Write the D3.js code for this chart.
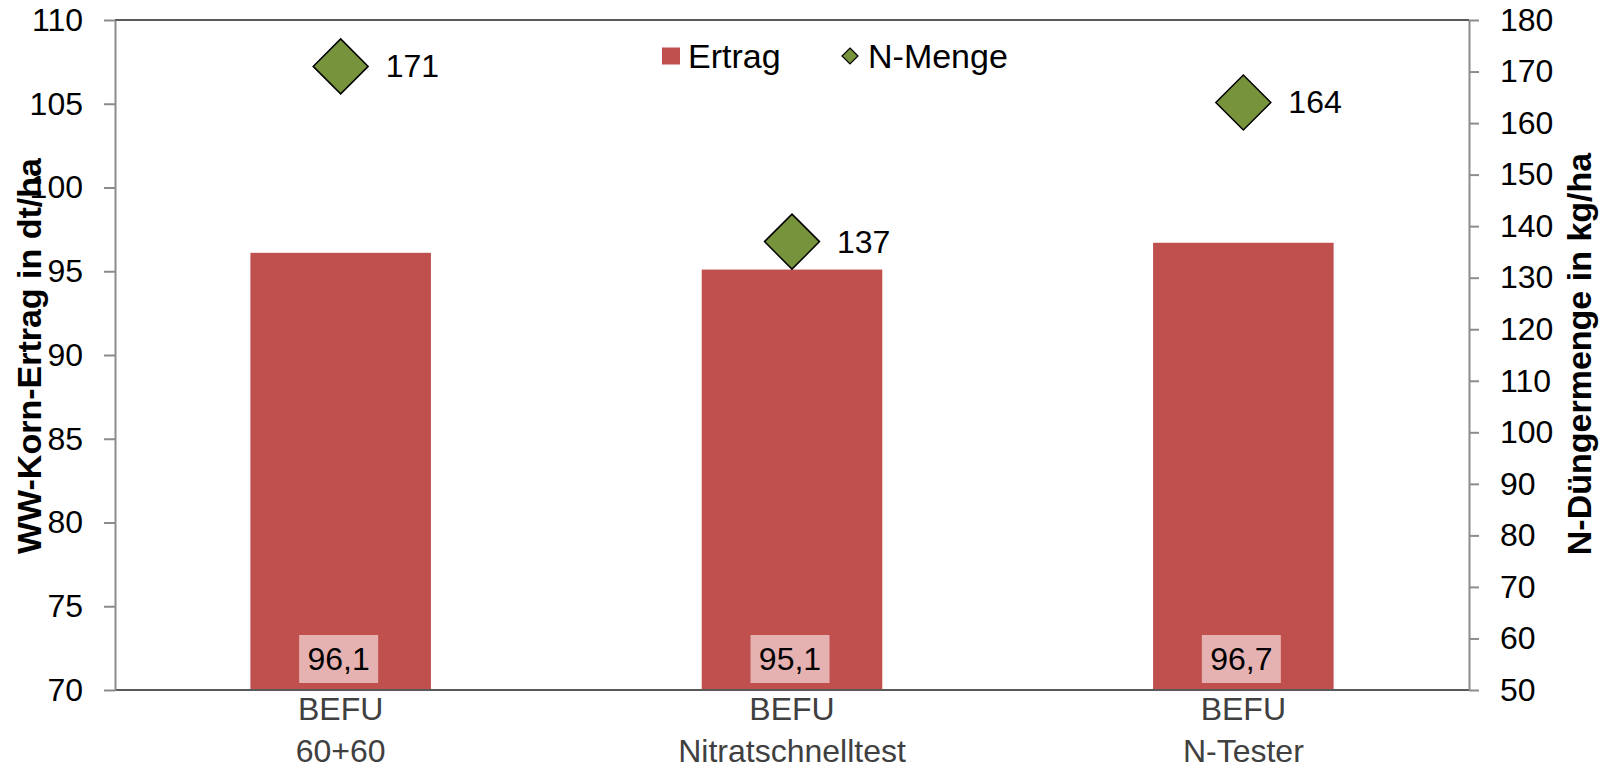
<!DOCTYPE html>
<html>
<head>
<meta charset="utf-8">
<script src="https://cdn.jsdelivr.net/npm/d3@7"></script>
<style>
  html, body { margin: 0; padding: 0; background: #fff; }
  svg { display: block; font-family: Arial, "Liberation Sans", sans-serif; }
</style>
</head>
<body>
<svg id="chart" width="1599" height="771"></svg>
<script>
// Categories (two-line labels) and series values
const categories = ["BEFU|60+60", "BEFU|Nitratschnelltest", "BEFU|N-Tester"];
const ertrag = [96.1, 95.1, 96.7];        // WW-Korn-Ertrag, dt/ha (left axis)
const nMenge = [171, 137, 164];           // N-Düngermenge, kg/ha (right axis)
const leftTicks = [70, 75, 80, 85, 90, 95, 100, 105, 110];
const rightTicks = [50, 60, 70, 80, 90, 100, 110, 120, 130, 140, 150, 160, 170, 180];

const barColor = "#C0504D";
const diamondColor = "#77933C";
const labelBoxColor = "#E6B2B1";

const plot = { left: 115, right: 1469, top: 20, bottom: 690 };
const svg = d3.select("#chart");

const x = d3.scaleBand()
  .domain(categories)
  .range([plot.left, plot.right])
  .paddingInner(0.6)
  .paddingOuter(0.3);
const yL = d3.scaleLinear().domain([70, 110]).range([plot.bottom, plot.top]);
const yR = d3.scaleLinear().domain([50, 180]).range([plot.bottom, plot.top]);

// Bars
svg.append("g").selectAll("rect")
  .data(categories)
  .join("rect")
  .attr("x", d => x(d))
  .attr("width", x.bandwidth())
  .attr("y", (d, i) => yL(ertrag[i]))
  .attr("height", (d, i) => yL(70) - yL(ertrag[i]))
  .attr("fill", barColor);

// Frame: top and bottom lines
svg.append("line")
  .attr("x1", plot.left).attr("x2", plot.right)
  .attr("y1", plot.top).attr("y2", plot.top)
  .attr("stroke", "#595959").attr("stroke-width", 2);
svg.append("line")
  .attr("x1", plot.left).attr("x2", plot.right)
  .attr("y1", plot.bottom).attr("y2", plot.bottom)
  .attr("stroke", "#595959").attr("stroke-width", 2);

// Left axis
const gL = svg.append("g")
  .attr("transform", `translate(${plot.left},0)`)
  .call(d3.axisLeft(yL).tickValues(leftTicks).tickSize(11).tickPadding(21).tickSizeOuter(0));
// Right axis
const gR = svg.append("g")
  .attr("transform", `translate(${plot.right},0)`)
  .call(d3.axisRight(yR).tickValues(rightTicks).tickSize(10).tickPadding(21).tickSizeOuter(0));

[gL, gR].forEach(g => {
  g.select(".domain").attr("stroke", "#8C8C8C").attr("stroke-width", 2);
  g.selectAll(".tick line").attr("stroke", "#8C8C8C").attr("stroke-width", 2);
  g.selectAll(".tick text")
    .attr("font-size", 32)
    .attr("font-family", "Arial, 'Liberation Sans', sans-serif")
    .attr("fill", "#000");
});

// Value labels inside bars
const vl = svg.append("g").selectAll("g")
  .data(categories)
  .join("g")
  .attr("transform", d => `translate(${x(d) + x.bandwidth() / 2 - 2},0)`);
vl.append("rect")
  .attr("x", -39.5).attr("width", 79)
  .attr("y", 635).attr("height", 48)
  .attr("fill", labelBoxColor);
vl.append("text")
  .attr("x", 0).attr("y", 659)
  .attr("text-anchor", "middle")
  .attr("dominant-baseline", "central")
  .attr("font-size", 32)
  .attr("fill", "#000")
  .text((d, i) => ertrag[i].toFixed(1).replace(".", ","));

// N-Menge diamonds with labels
const dm = 27.5;
const diamond = `M0,${-dm}L${dm},0L0,${dm}L${-dm},0Z`;
const dg = svg.append("g").selectAll("g")
  .data(categories)
  .join("g")
  .attr("transform", (d, i) => `translate(${x(d) + x.bandwidth() / 2},${yR(nMenge[i])})`);
dg.append("path")
  .attr("d", diamond)
  .attr("fill", diamondColor)
  .attr("stroke", "#000")
  .attr("stroke-width", 1.5);
dg.append("text")
  .attr("x", 45).attr("y", 0)
  .attr("dominant-baseline", "central")
  .attr("font-size", 32)
  .attr("fill", "#000")
  .text((d, i) => nMenge[i]);

// Category labels (two lines)
const cl = svg.append("g").selectAll("text")
  .data(categories)
  .join("text")
  .attr("text-anchor", "middle")
  .attr("font-size", 32)
  .attr("fill", "#404040");
cl.each(function(d) {
  const parts = d.split("|");
  const t = d3.select(this);
  parts.forEach((p, k) => {
    t.append("tspan")
      .attr("x", x(d) + x.bandwidth() / 2)
      .attr("y", 720 + k * 42)
      .text(p);
  });
});

// Legend
const lg = svg.append("g").attr("font-size", 34).attr("fill", "#000");
lg.append("rect").attr("x", 662).attr("y", 47.5).attr("width", 18).attr("height", 17).attr("fill", barColor);
lg.append("text").attr("x", 688).attr("y", 56).attr("dominant-baseline", "central").text("Ertrag");
lg.append("path")
  .attr("transform", "translate(850,56)")
  .attr("d", "M0,-8L8,0L0,8L-8,0Z")
  .attr("fill", diamondColor).attr("stroke", "#000").attr("stroke-width", 1.2);
lg.append("text").attr("x", 868).attr("y", 56).attr("dominant-baseline", "central").text("N-Menge");

// Axis titles
svg.append("text")
  .attr("transform", "translate(41,356) rotate(-90)")
  .attr("text-anchor", "middle")
  .attr("font-size", 34).attr("font-weight", "bold").attr("fill", "#000")
  .text("WW-Korn-Ertrag in dt/ha");
svg.append("text")
  .attr("transform", "translate(1591,354) rotate(-90)")
  .attr("text-anchor", "middle")
  .attr("font-size", 34).attr("font-weight", "bold").attr("fill", "#000")
  .text("N-Düngermenge in kg/ha");
</script>
</body>
</html>
